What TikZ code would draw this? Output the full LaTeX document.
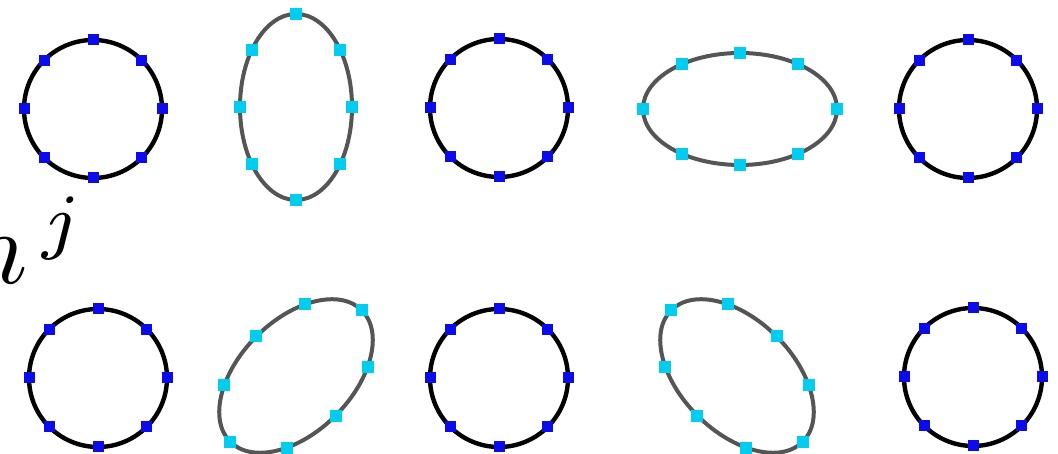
\documentclass[tikz,border=0pt]{standalone}
\definecolor{ringdot}{RGB}{12,12,235}
\definecolor{ovaldot}{RGB}{0,205,240}
\definecolor{ovalline}{RGB}{85,85,85}
\tikzset{
  ring/.style={line width=4.4pt,black},
  oval/.style={line width=4pt,ovalline},
  ringmark/.style={rectangle,fill=ringdot,minimum size=11pt,inner sep=0pt},
  ovalmark/.style={rectangle,fill=ovaldot,minimum size=12pt,inner sep=0pt}
}
\begin{document}
\begin{tikzpicture}[x=1pt,y=1pt]
\useasboundingbox (0,0) rectangle (1058,454);
% unstretched rings
\foreach \cx/\cy [count=\i] in {93/345,499/346,968/345,98/76,499/76,973/77}{
  \draw[ring] (\cx,\cy) circle (69);
  \foreach \a [count=\k] in {0,45,...,315}
    \node[ringmark] (r\i-\k) at ({\cx+69*cos(\a)},{\cy+69*sin(\a)}) {};
}
% stretched ovals: centre, half axes, marker angle, tilt
\foreach \cx/\cy/\rx/\ry/\t/\rot [count=\i] in {296/347/56/93/38/0,740/345/97/56/53/0,296/78/56/93/38/-45,737/78/56/93/38/45}{
  \begin{scope}[shift={(\cx,\cy)},rotate=\rot]
    \draw[oval] (0,0) ellipse [x radius=\rx,y radius=\ry];
    \foreach \a [count=\k] in {0,\t,90,180-\t,180,180+\t,270,360-\t}
      \node[ovalmark] (o\i-\k) at ({\rx*cos(\a)},{\ry*sin(\a)}) {};
  \end{scope}
}
% amplitude label, cut by the left edge
\node[anchor=base west,inner sep=0pt,scale=10.5] (amp) at (-35,170) {$h^{\,j}$};
\end{tikzpicture}
\end{document}
